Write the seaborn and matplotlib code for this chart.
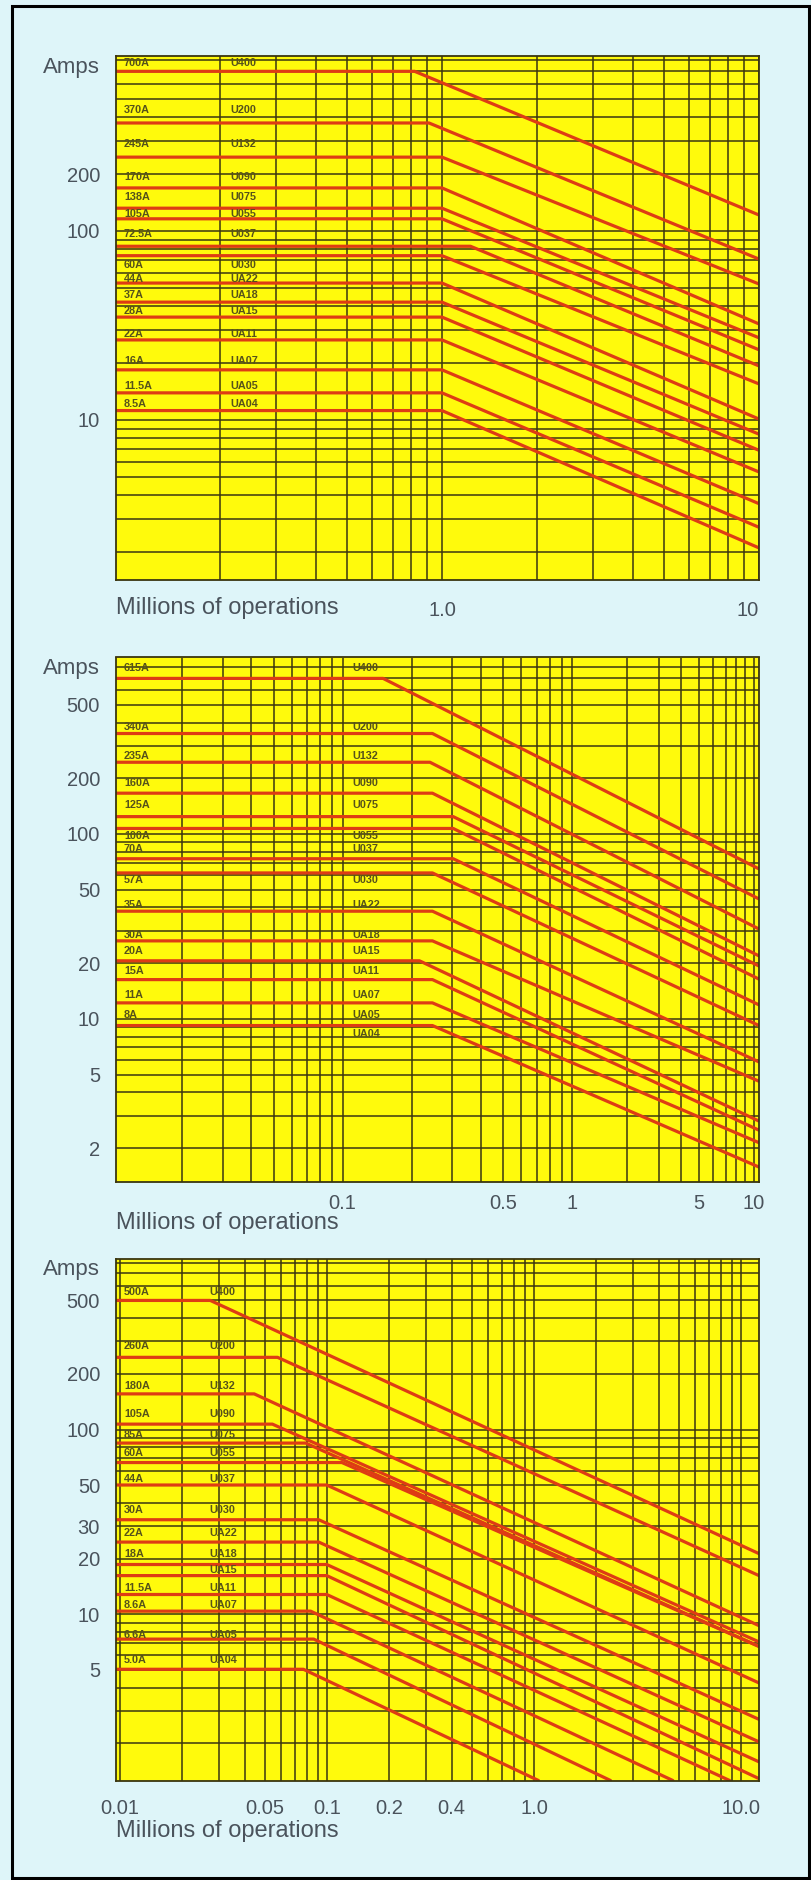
"""
Contact life curves: amps vs millions of operations (three panels)
"""

import numpy as np
import pandas as pd
import matplotlib
matplotlib.use("Agg")
import matplotlib.pyplot as plt
from matplotlib.patches import Rectangle
from matplotlib.ticker import NullFormatter
import seaborn as sns


# ---------------- panel 1 ----------------
P1_AMP_LABELS = ['700A', '370A', '245A', '170A', '138A', '105A', '72.5A', '60A',
                 '44A', '37A', '28A', '22A', '16A', '11.5A', '8.5A']
P1_UNIT_LABELS = ['U400', 'U200', 'U132', 'U090', 'U075', 'U055', 'U037', 'U030',
                  'UA22', 'UA18', 'UA15', 'UA11', 'UA07', 'UA05', 'UA04']
P1_LABEL_ROWS = [774, 437, 289, 193, 151, 123, 96, 66, 56, 46, 37.5, 28.5, 20.5, 15.2, 12.2]
P1_PLATEAU = [700, 373, 246, 169, 132, 116, 83, 74, 53, 42, 35, 26.5, 18.4, 13.9, 11.2]
P1_KNEE = [0.82, 0.91, 1.0, 1.0, 1.0, 1.0, 1.23, 1.0, 1.0, 1.0, 1.0, 1.0, 1.0, 1.0, 1.0]
P1_END_X = [10.0] * 15
P1_END_Y = [121.5, 71, 52.4, 32.2, 27.2, 23.5, 19.3, 15.5, 10.1, 8.4, 6.9, 5.3, 3.6, 2.7, 2.1]
P1_XLIM = (0.0937, 10.0)
P1_YLIM = (1.42, 844)
P1_XTICKS = [1, 10]
P1_XTICKLABELS = ['1.0', '10']
P1_YTICKS = [200, 100, 10]

# ---------------- panel 2 ----------------
P2_AMP_LABELS = ['615A', '340A', '235A', '160A', '125A', '100A', '70A', '57A',
                 '35A', '30A', '20A', '15A', '11A', '8A', '']
P2_UNIT_LABELS = ['U400', 'U200', 'U132', 'U090', 'U075', 'U055', 'U037', 'U030',
                  'UA22', 'UA18', 'UA15', 'UA11', 'UA07', 'UA05', 'UA04']
P2_LABEL_ROWS = [790, 380, 265, 189, 144, 98, 83, 56, 41.5, 28.4, 23.2, 18.2, 13.5, 10.5, 8.3]
P2_PLATEAU = [693, 349, 244, 166, 124, 107, 73.4, 61.5, 38.2, 26.4, 20.6, 16.3, 12.2, 9.2]
P2_KNEE = [0.15, 0.246, 0.24, 0.246, 0.303, 0.303, 0.303, 0.246, 0.246, 0.246,
           0.216, 0.246, 0.246, 0.246]
P2_END_X = [10.7] * 14
P2_END_Y = [64.7, 44.5, 30.6, 21.9, 19.3, 16.4, 11.9, 9.2, 5.85, 4.6, 2.8, 2.5, 2.14, 1.58]
P2_XLIM = (0.0103, 10.7)
P2_YLIM = (1.32, 899)
P2_XTICKS = [0.1, 0.5, 1, 5, 10]
P2_XTICKLABELS = ['0.1', '0.5', '1', '5', '10']
P2_YTICKS = [500, 200, 100, 50, 20, 10, 5, 2]

# ---------------- panel 3 ----------------
P3_AMP_LABELS = ['500A', '260A', '180A', '105A', '85A', '60A', '44A', '30A',
                 '22A', '18A', '', '11.5A', '8.6A', '6.6A', '5.0A']
P3_UNIT_LABELS = ['U400', 'U200', 'U132', 'U090', 'U075', 'U055', 'U037', 'U030',
                  'UA22', 'UA18', 'UA15', 'UA11', 'UA07', 'UA05', 'UA04']
P3_LABEL_ROWS = [554, 282, 172, 121, 93, 74.5, 54, 36.5, 27.5, 21.3, 17.4, 13.8, 11.2, 7.76, 5.64]
P3_PLATEAU = [500, 246, 156, 107, 84.5, 66.3, 50.1, 32.5, 24.6, 18.6, 16.2, 12.8, 10.4, 7.34, 5.04]
P3_KNEE = [0.0273, 0.0577, 0.0445, 0.0545, 0.0789, 0.118, 0.0997, 0.0912, 0.0912,
           0.0997, 0.0997, 0.0997, 0.0834, 0.0863, 0.0769]
P3_END_X = [12.2, 12.2, 12.2, 12.2, 12.2, 12.2, 12.2, 12.2, 12.2, 12.2, 12.2,
            8.8, 4.68, 2.34, 1.05]
P3_END_Y = [21.3, 16.2, 8.68, 7.09, 6.70, 6.70, 4.25, 2.70, 2.04, 1.59, 1.29,
            1.26, 1.26, 1.26, 1.26]
P3_XLIM = (0.00957, 12.2)
P3_YLIM = (1.26, 838)
P3_XTICKS = [0.01, 0.05, 0.1, 0.2, 0.4, 1, 10]
P3_XTICKLABELS = ['0.01', '0.05', '0.1', '0.2', '0.4', '1.0', '10.0']
P3_YTICKS = [500, 200, 100, 50, 30, 20, 10, 5]

# ---------------- style ----------------
W, H = 811, 1880
BG = '#def5f9'
YELLOW = '#fffa0c'
GRID = '#3a3510'
RED = '#de3c14'
TEXT = '#4a535c'
LABEL = '#56521a'

# middle panel: printed scale is squeezed above 1 million ops
K2 = 0.79


def fwd2(x):
    lx = np.log10(np.clip(x, 1e-9, None))
    return np.where(lx > 0, lx * K2, lx)


def inv2(u):
    u = np.asarray(u, dtype=float)
    return np.where(u > 0, 10.0 ** (u / K2), 10.0 ** u)


def px_box(left, top, right, bottom):
    return [left / W, 1 - bottom / H, (right - left) / W, (bottom - top) / H]


def log_grid(lo, hi):
    vals = [m * 10.0 ** e for e in range(-3, 3) for m in range(1, 10)]
    return [v for v in vals if lo * 1.1 < v < hi * 0.99]


def curve_frame(x_start, plateau, knee, end_x, end_y):
    rows = []
    for i in range(len(plateau)):
        pts = [(x_start, plateau[i]), (knee[i], plateau[i]), (end_x[i], end_y[i])]
        for x, y in pts:
            rows.append({'line': i, 'ops': x, 'amps': y})
    return pd.DataFrame(rows)


def draw_panel(ax, p):
    df = curve_frame(p['xlim'][0], p['plateau'], p['knee'], p['end_x'], p['end_y'])
    sns.lineplot(data=df, x='ops', y='amps', units='line', estimator=None,
                 sort=False, color=RED, lw=2.3, legend=False, ax=ax)

    if p['xscale'] == 'func':
        ax.set_xscale('function', functions=(fwd2, inv2))
    else:
        ax.set_xscale('log')
    ax.set_yscale('log')
    ax.set_xlim(*p['xlim'])
    ax.set_ylim(*p['ylim'])
    ax.set_facecolor(YELLOW)

    ax.set_xticks(log_grid(*p['xlim']), minor=True)
    ax.set_yticks(log_grid(*p['ylim']), minor=True)
    ax.set_xticks(p['xticks'], labels=p['xticklabels'])
    ax.set_yticks(p['yticks'], labels=[str(v) for v in p['yticks']])
    ax.xaxis.set_minor_formatter(NullFormatter())
    ax.yaxis.set_minor_formatter(NullFormatter())
    ax.grid(which='both', color=GRID, lw=1.1)
    ax.tick_params(which='both', length=0, labelsize=14.5, labelcolor=TEXT)
    ax.tick_params(axis='y', pad=11.5)
    ax.tick_params(axis='x', pad=p['xpad'])
    if p.get('last_right'):
        ax.get_xticklabels()[-1].set_ha('right')
    for s in ax.spines.values():
        s.set_color(GRID)
        s.set_linewidth(1.3)
    ax.set_xlabel('')
    ax.set_ylabel('')

    # row labels inside the plot
    trans = ax.get_yaxis_transform()
    for a_txt, u_txt, row in zip(p['amp_labels'], p['unit_labels'], p['rows']):
        ax.annotate(a_txt, xy=(0, row), xycoords=trans, xytext=(8, 0),
                    textcoords='offset pixels', ha='left', va='center',
                    fontsize=7.8, fontweight='bold', color=LABEL)
        ax.annotate(u_txt, xy=(0, row), xycoords=trans, xytext=(p['unit_dx'], 0),
                    textcoords='offset pixels', ha='left', va='center',
                    fontsize=7.8, fontweight='bold', color=LABEL)

    ax.annotate('Amps', xy=(0, 1), xycoords='axes fraction', xytext=(-16, -11),
                textcoords='offset pixels', ha='right', va='center',
                fontsize=16, color=TEXT)
    ax.annotate('Millions of operations', xy=(0, 0), xycoords='axes fraction',
                xytext=(0, -p['millions_dy']), textcoords='offset pixels',
                ha='left', va='center', fontsize=17, color=TEXT)


panels = [
    dict(box=px_box(116, 56, 759, 580), xscale='log',
         xlim=P1_XLIM, ylim=P1_YLIM, xticks=P1_XTICKS, xticklabels=P1_XTICKLABELS,
         yticks=P1_YTICKS, plateau=P1_PLATEAU, knee=P1_KNEE, end_x=P1_END_X,
         end_y=P1_END_Y, amp_labels=P1_AMP_LABELS, unit_labels=P1_UNIT_LABELS,
         rows=P1_LABEL_ROWS, unit_dx=114, xpad=15, millions_dy=28, last_right=True),
    dict(box=px_box(116, 657.5, 759, 1181.5), xscale='func',
         xlim=P2_XLIM, ylim=P2_YLIM, xticks=P2_XTICKS, xticklabels=P2_XTICKLABELS,
         yticks=P2_YTICKS, plateau=P2_PLATEAU, knee=P2_KNEE, end_x=P2_END_X,
         end_y=P2_END_Y, amp_labels=P2_AMP_LABELS, unit_labels=P2_UNIT_LABELS,
         rows=P2_LABEL_ROWS, unit_dx=236, xpad=9, millions_dy=41.5),
    dict(box=px_box(116, 1259, 759, 1780.5), xscale='log',
         xlim=P3_XLIM, ylim=P3_YLIM, xticks=P3_XTICKS, xticklabels=P3_XTICKLABELS,
         yticks=P3_YTICKS, plateau=P3_PLATEAU, knee=P3_KNEE, end_x=P3_END_X,
         end_y=P3_END_Y, amp_labels=P3_AMP_LABELS, unit_labels=P3_UNIT_LABELS,
         rows=P3_LABEL_ROWS, unit_dx=93, xpad=13, millions_dy=50),
]

sns.set_style('white')
plt.rcParams['font.family'] = ['Liberation Sans', 'DejaVu Sans']

fig = plt.figure(figsize=(W / 100, H / 100), dpi=100, facecolor=BG)
for p in panels:
    ax = fig.add_axes(p['box'])
    draw_panel(ax, p)

# black frame round the sheet
fig.add_artist(Rectangle((12 / W, 2 / H), 797 / W, 1872 / H, transform=fig.transFigure,
                         fill=False, edgecolor='black', lw=2.2))

fig.savefig('out.png', dpi=100, facecolor=BG)
plt.close(fig)
